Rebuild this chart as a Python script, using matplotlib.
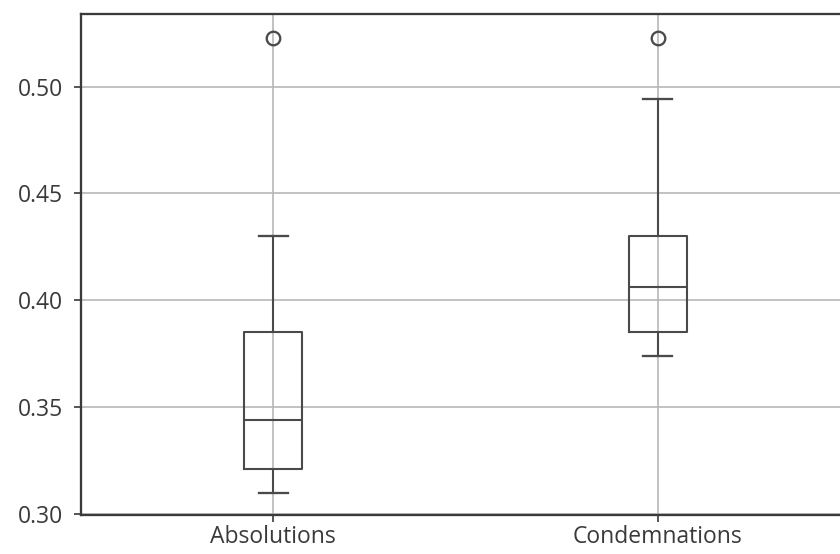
import matplotlib
matplotlib.use('Agg')
import matplotlib.pyplot as plt

plt.rcParams['font.family'] = ['Open Sans', 'DejaVu Sans']

# box statistics
labels = ['Absolutions', 'Condemnations']
whislo = [0.310, 0.374]
q1 = [0.321, 0.385]
med = [0.344, 0.406]
q3 = [0.385, 0.430]
whishi = [0.430, 0.494]
fliers = [[0.523], [0.523]]

stats = []
for i in range(len(labels)):
    stats.append({'label': labels[i], 'whislo': whislo[i], 'q1': q1[i], 'med': med[i],
                  'q3': q3[i], 'whishi': whishi[i], 'fliers': fliers[i]})

line_col = '#4a4a4a'

fig = plt.figure(figsize=(840 / 150, 554 / 150), dpi=150)
# axes runs a bit past the right edge of the picture, like the cropped original
ax = fig.add_axes([81 / 840, 39 / 554, 769 / 840, 501 / 554])

ax.bxp(stats, positions=[1, 2], widths=0.15,
       boxprops=dict(color=line_col, linewidth=1.0),
       whiskerprops=dict(color=line_col, linewidth=1.0),
       capprops=dict(color=line_col, linewidth=1.1),
       medianprops=dict(color=line_col, linewidth=1.0),
       flierprops=dict(marker='o', markerfacecolor='none', markeredgecolor=line_col,
                       markersize=6.5, markeredgewidth=1.1))

ax.set_xlim(0.5, 2.5)
ax.set_ylim(0.2995, 0.534)
ax.set_yticks([0.30, 0.35, 0.40, 0.45, 0.50])
ax.set_yticklabels(['0.30', '0.35', '0.40', '0.45', '0.50'])
ax.grid(True, color='#b8b8b8', linewidth=0.8)
ax.set_axisbelow(True)
for s in ax.spines.values():
    s.set_color('#3a3a3a')
    s.set_linewidth(1.1)
ax.tick_params(colors='#3a3a3a', labelcolor='#3a3a3a', labelsize=11)
ax.tick_params(axis='y', pad=5)
ax.tick_params(axis='x', pad=1.5)

fig.savefig('out.png', dpi=150)
